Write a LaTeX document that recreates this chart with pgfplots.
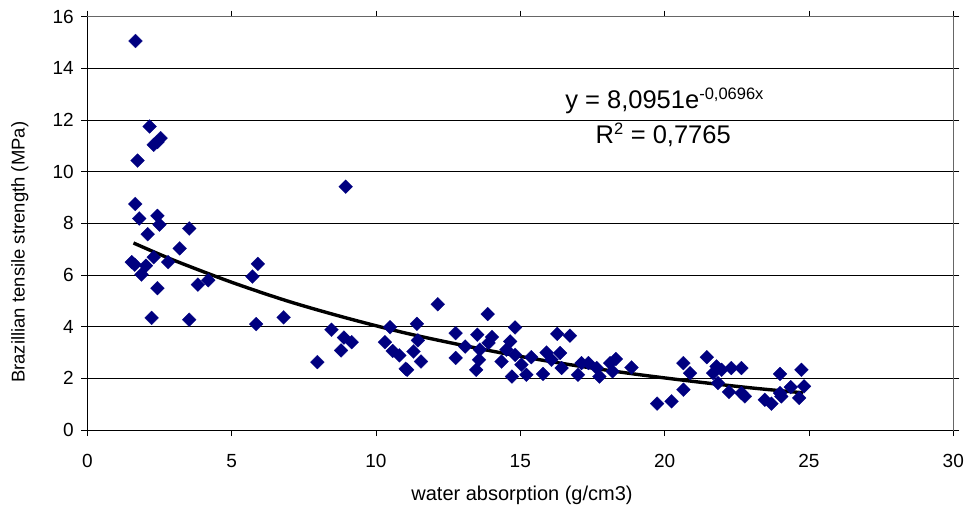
\documentclass[border=0pt]{standalone}
\usepackage{pgfplots}
\pgfplotsset{compat=1.18}
\usepackage{fontspec}
\setmainfont{Liberation Sans}
\definecolor{navy}{RGB}{0,0,128}
\begin{document}
\begin{tikzpicture}
\begin{axis}[
  scale only axis, width=866pt, height=413.3pt,
  xmin=0, xmax=30, ymin=0, ymax=16,
  xtick={0,5,10,15,20,25,30}, ytick={0,2,4,6,8,10,12,14,16},
  ymajorgrids, grid style={black, line width=0.9pt},
  axis line style={gray!80!black, line width=0.9pt},
  tick align=outside, major tick length=6pt,
  tick style={black, line width=0.8pt},
  /pgf/number format/assume math mode=true,
  tick label style={font=\fontsize{19}{21}\selectfont},
  xticklabel style={yshift=-15pt},
  yticklabel style={xshift=-4pt},
  label style={font=\fontsize{18.5}{21}\selectfont},
  xlabel={water absorption (g/cm3)},
  ylabel={Brazillian tensile strength (MPa)},
  xlabel style={at={(axis description cs:0.502,-0.158)}, anchor=center, font=\fontsize{20}{22}\selectfont},
  ylabel style={at={(axis description cs:-0.078,0.43)}, anchor=center, rotate=0},
  clip=false,
]
\coordinate (sw) at (rel axis cs:0,0);
\coordinate (ne) at (rel axis cs:1,1);
\draw[black, line width=0.9pt] (rel axis cs:0,0) -- (rel axis cs:0,1);
\draw[black, line width=0.9pt] (rel axis cs:0,0) -- (rel axis cs:1,0);
\addplot[only marks, mark=square*, mark size=4.9pt, mark options={rotate=45, fill=navy, draw=navy, line width=0.2pt}] coordinates {
(1.67,15.06) (2.16,11.75) (2.54,11.30) (2.30,11.04) (2.43,11.15) (1.74,10.43)
(1.66,8.75) (1.80,8.19) (2.43,8.29) (2.50,7.95) (2.09,7.58) (3.53,7.80)
(3.20,7.03) (1.54,6.50) (1.64,6.40) (2.30,6.69) (2.03,6.36) (1.88,6.02)
(2.80,6.50) (2.43,5.49) (3.83,5.63) (4.19,5.80) (5.72,5.94) (5.91,6.43)
(2.23,4.34) (3.53,4.27) (5.85,4.10) (8.95,9.42) (6.80,4.36) (8.46,3.88)
(7.97,2.63) (8.89,3.58) (9.16,3.40) (8.79,3.08) (10.49,3.98) (10.31,3.40)
(10.58,3.06) (10.81,2.89) (11.03,2.37) (11.08,2.33) (11.30,3.04) (11.42,4.11)
(11.45,3.47) (12.14,4.87) (11.56,2.65) (12.76,3.75) (12.76,2.79) (13.09,3.23)
(13.51,3.69) (14.02,3.60) (13.90,3.37) (13.60,3.11) (13.57,2.72) (13.47,2.33)
(13.87,4.49) (14.82,3.97) (14.65,3.43) (14.52,3.11) (14.35,2.65) (14.71,2.07)
(14.82,2.91) (15.04,2.53) (15.21,2.14) (15.38,2.82) (15.79,2.17) (15.91,3.00)
(16.28,3.72) (16.08,2.72) (16.72,3.65) (16.38,2.98) (16.43,2.40) (17.00,2.14)
(17.12,2.59) (17.36,2.59) (17.74,2.07) (17.65,2.40) (18.11,2.59) (18.31,2.75)
(18.20,2.27) (18.85,2.42) (19.74,1.02) (20.24,1.11) (20.65,1.56) (20.65,2.59)
(20.88,2.20) (21.46,2.82) (21.80,2.46) (21.68,2.20) (21.97,2.33) (22.31,2.40)
(22.66,2.40) (21.85,1.82) (22.23,1.47) (22.66,1.43) (22.78,1.30) (23.47,1.17)
(23.70,1.02) (24.00,2.17) (24.00,1.43) (24.37,1.66) (24.74,2.33) (24.83,1.69)
(24.66,1.24) (24.04,1.30)
};
\addplot[black, line width=3.4pt, smooth] coordinates {
(1.6,7.24) (3,6.57) (5,5.72) (7,4.97) (9,4.33) (11,3.76) (13,3.28)
(15,2.85) (17,2.48) (19,2.16) (21,1.88) (23,1.63) (24.8,1.44)
};
\node[font=\fontsize{25.5}{28}\selectfont, anchor=base] at (axis cs:20.0,12.45) {y = 8,0951e$^{\mbox{\fontsize{16.5}{18}\selectfont -0,0696x}}$};
\node[font=\fontsize{25.5}{28}\selectfont, anchor=base] at (axis cs:19.95,11.1) {R$^{\mbox{\fontsize{16.5}{18}\selectfont 2}}$ = 0,7765};
\end{axis}
\pgfresetboundingbox
\path ([shift={(-87.3pt,-82pt)}]sw) rectangle ([shift={(14.7pt,16.7pt)}]ne);
\end{tikzpicture}
\end{document}
